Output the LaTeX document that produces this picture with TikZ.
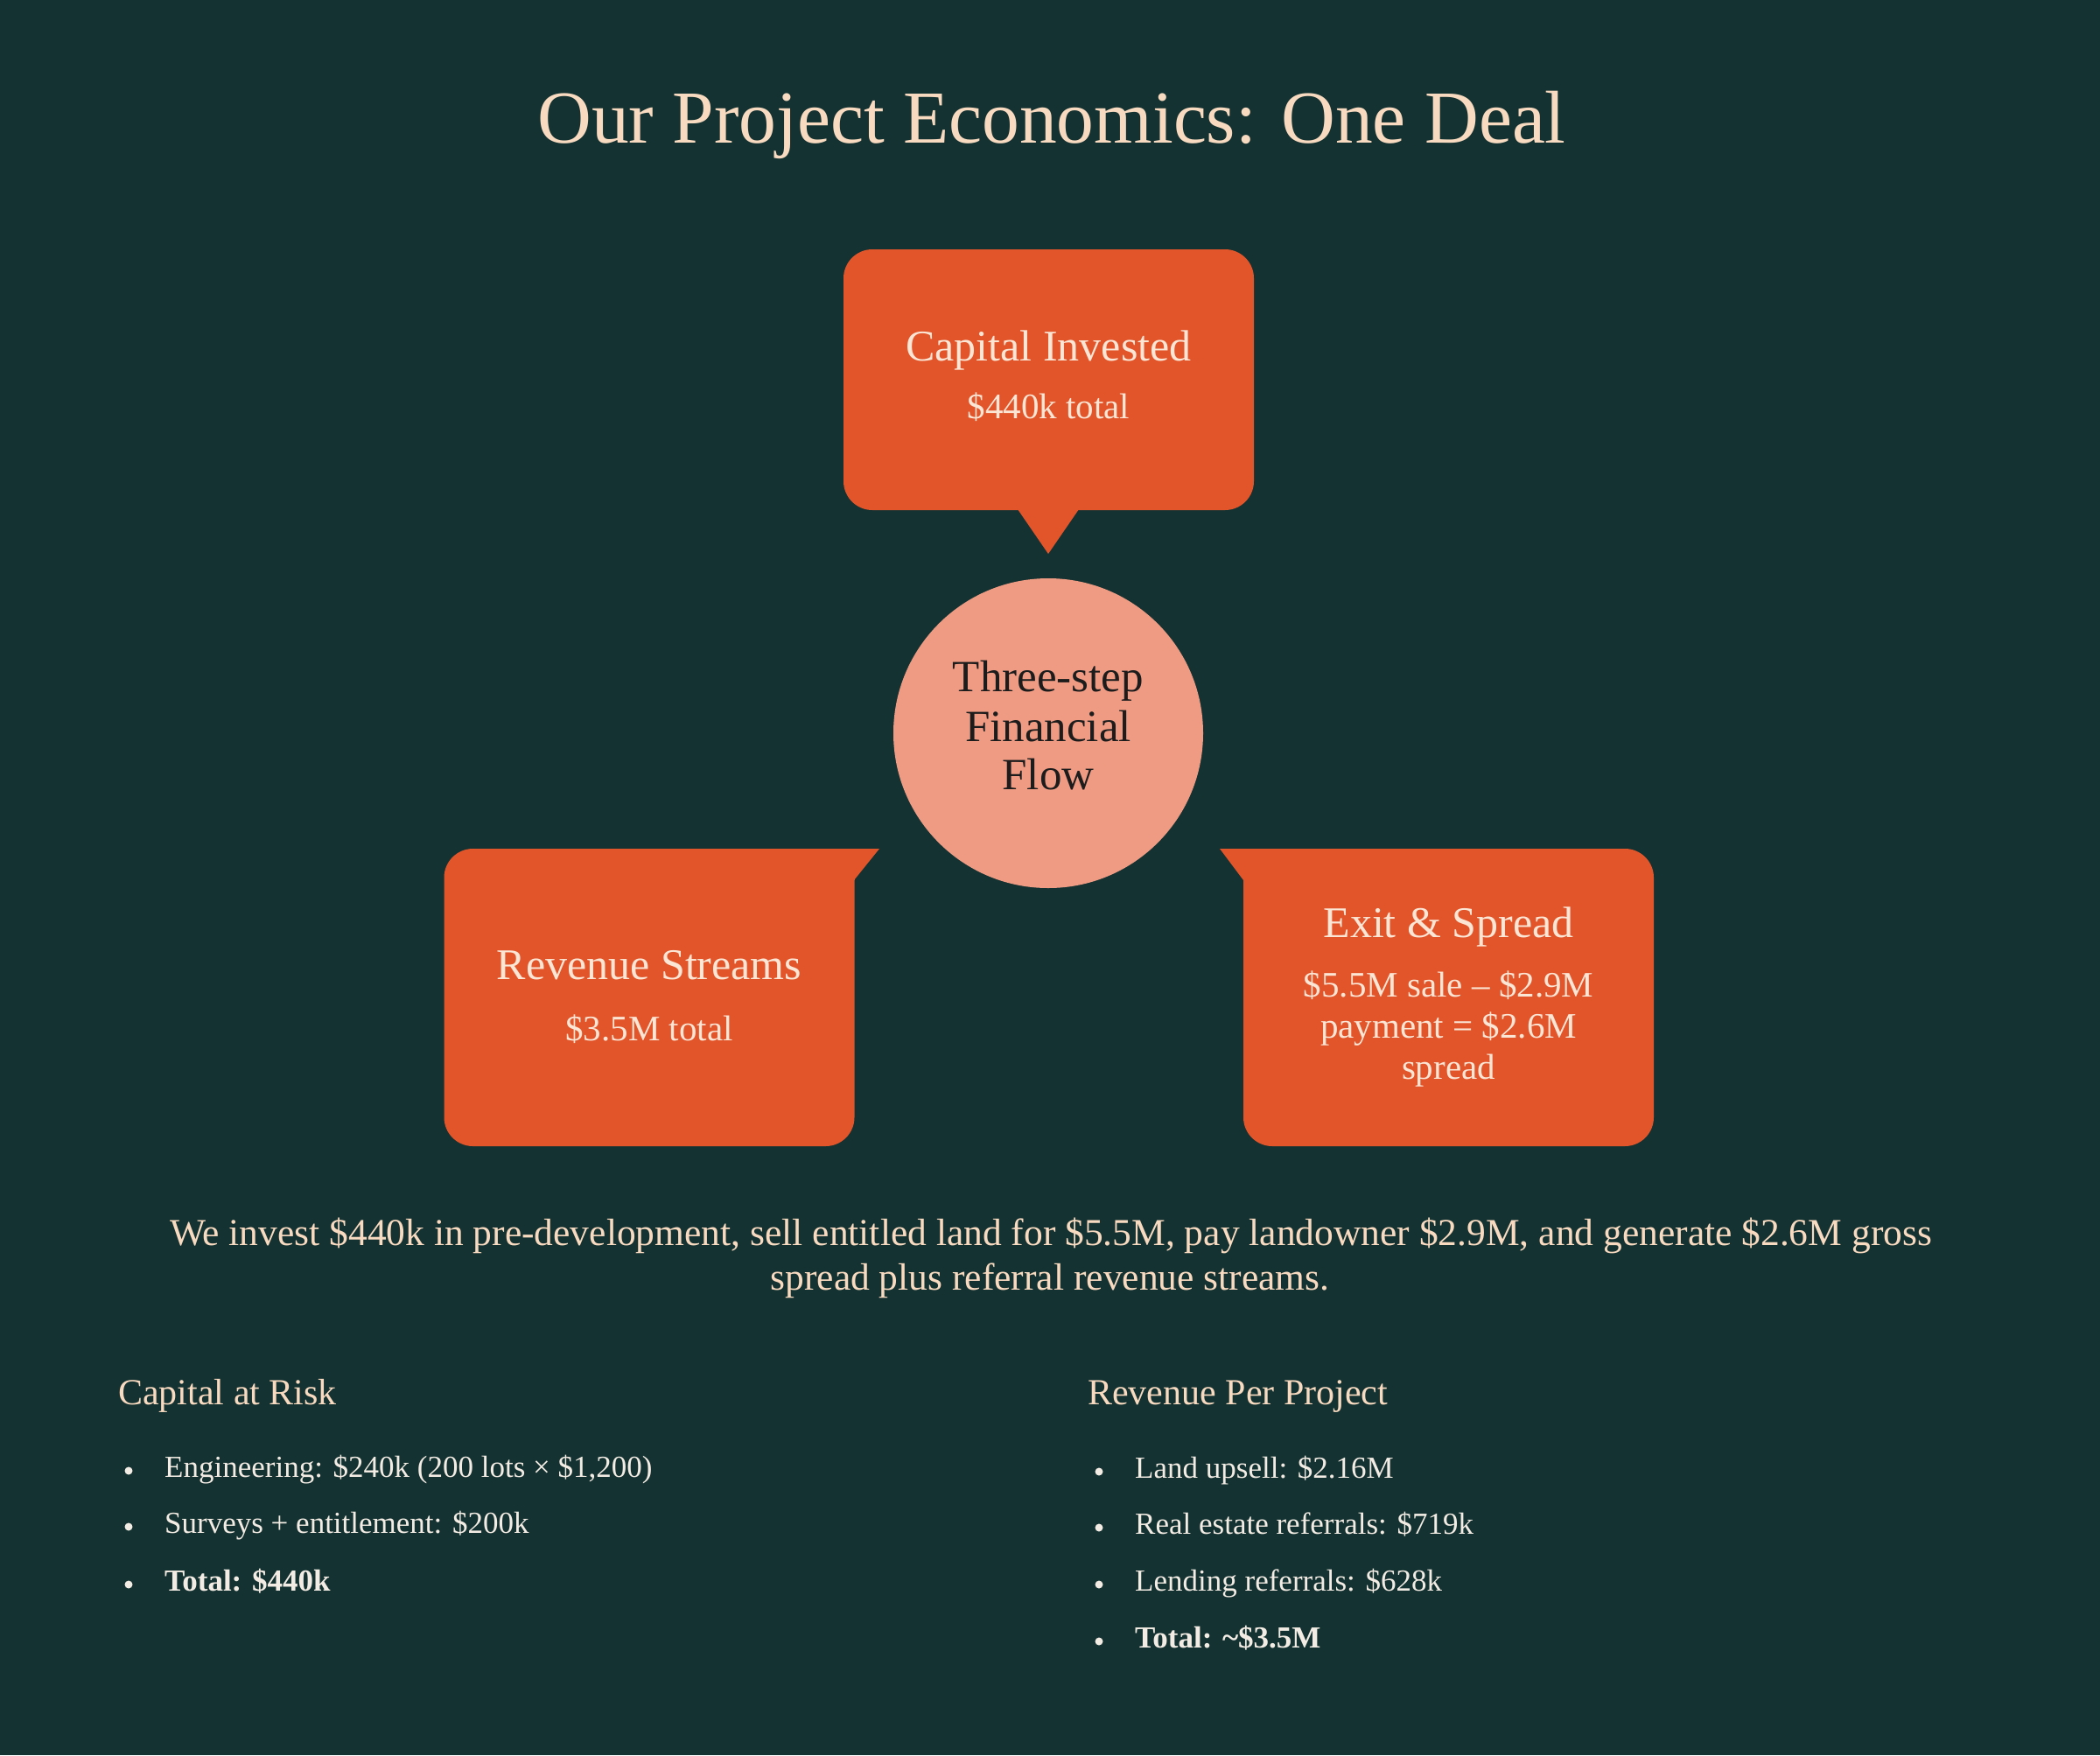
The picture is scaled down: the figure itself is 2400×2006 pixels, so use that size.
\documentclass[tikz,border=0pt]{standalone}
\usepackage{fontspec}
\setmainfont{Liberation Serif}
\definecolor{bg}{HTML}{143231}
\definecolor{boxor}{HTML}{E2552A}
\definecolor{salmon}{HTML}{EF9B84}
\definecolor{peach}{HTML}{F8DAC0}
\definecolor{boxtxt}{HTML}{FBE6D6}
\definecolor{listtxt}{HTML}{F3ECE4}
\definecolor{darktxt}{HTML}{1C1C1C}
\newcommand{\fsz}[2]{\fontsize{#1}{#2}\selectfont}
\tikzset{
  txt/.style={inner sep=0pt, anchor=base},
  titletxt/.style={txt, text=peach, font=\fsz{85.5}{100}},
  boxhead/.style={txt, text=boxtxt, font=\fsz{50}{58}},
  boxsub/.style={txt, text=boxtxt, font=\fsz{41}{48}},
  circtxt/.style={txt, text=darktxt, font=\fsz{51}{56}},
  paratxt/.style={txt, text=peach, font=\fsz{43.5}{50}},
  colhead/.style={txt, anchor=base west, text=peach, font=\fsz{42}{46}},
  item/.style={txt, anchor=base west, text=listtxt, font=\fsz{35}{40}},
  dotmark/.style={circle, fill=listtxt, inner sep=0pt, minimum size=9pt},
  bubble/.style={rectangle, rounded corners=33pt, fill=boxor, inner sep=0pt, draw=none},
}
\begin{document}
\begin{tikzpicture}[x=1pt, y=-1pt]
\fill[bg] (0,0) rectangle (2400,2006);
\useasboundingbox (0,0) rectangle (2400,2006);

% title
\node[titletxt] (title) at (1202,163) {Our Project Economics: One Deal};

% top bubble
\node[bubble, minimum width=469pt, minimum height=298pt] (capbox) at (1198.5,434) {};
\fill[boxor] (1163,582) -- (1233,582) -- (1198,633) -- cycle;
\node[boxhead] (capt) at (1198.5,412) {Capital Invested};
\node[boxsub] (caps) at (1198.5,478) {\$440k total};

% centre circle
\node[circle, fill=salmon, minimum size=354pt, inner sep=0pt] (hub) at (1198,838) {};
\node[circtxt] (hub1) at (1198,790) {Three-step};
\node[circtxt] (hub2) at (1198,847) {Financial};
\node[circtxt] (hub3) at (1198,902) {Flow};

% left bubble
\node[bubble, minimum width=469pt, minimum height=340pt] (revbox) at (742,1140) {};
\fill[boxor] (943,970) rectangle (976.5,1006);
\fill[boxor] (976,970) -- (1005,970) -- (976,1006) -- cycle;
\node[boxhead] (revt) at (742,1119) {Revenue Streams};
\node[boxsub] (revs) at (742,1189) {\$3.5M total};

% right bubble
\node[bubble, minimum width=469pt, minimum height=340pt] (exitbox) at (1655.5,1140) {};
\fill[boxor] (1420.5,970) rectangle (1454,1006);
\fill[boxor] (1421,970) -- (1394,970) -- (1421,1006) -- cycle;
\node[boxhead] (exitt) at (1655.5,1071) {Exit \& Spread};
\node[boxsub] (exit1) at (1655.5,1139) {\$5.5M sale – \$2.9M};
\node[boxsub] (exit2) at (1655.5,1186) {payment = \$2.6M};
\node[boxsub] (exit3) at (1655.5,1233) {spread};

% paragraph
\node[paratxt] (para1) at (1201,1423) {We invest \$440k in pre-development, sell entitled land for \$5.5M, pay landowner \$2.9M, and generate \$2.6M gross};
\node[paratxt] (para2) at (1200,1474) {spread plus referral revenue streams.};

% left column
\node[colhead] (lhead) at (135,1605) {Capital at Risk};
\node[dotmark] (lb1) at (147,1681) {};
\node[item] (li1) at (188,1688) {Engineering: \$240k (200 lots × \$1,200)};
\node[dotmark] (lb2) at (147,1745) {};
\node[item] (li2) at (188,1752) {Surveys + entitlement: \$200k};
\node[dotmark] (lb3) at (147,1811) {};
\node[item] (li3) at (188,1818) {\textbf{Total: \$440k}};

% right column
\node[colhead] (rhead) at (1243,1605) {Revenue Per Project};
\node[dotmark] (rb1) at (1256,1682) {};
\node[item] (ri1) at (1297,1689) {Land upsell: \$2.16M};
\node[dotmark] (rb2) at (1256,1746) {};
\node[item] (ri2) at (1297,1753) {Real estate referrals: \$719k};
\node[dotmark] (rb3) at (1256,1811) {};
\node[item] (ri3) at (1297,1818) {Lending referrals: \$628k};
\node[dotmark] (rb4) at (1256,1876) {};
\node[item] (ri4) at (1297,1883) {\textbf{Total: \textasciitilde\$3.5M}};
\end{tikzpicture}
\end{document}
